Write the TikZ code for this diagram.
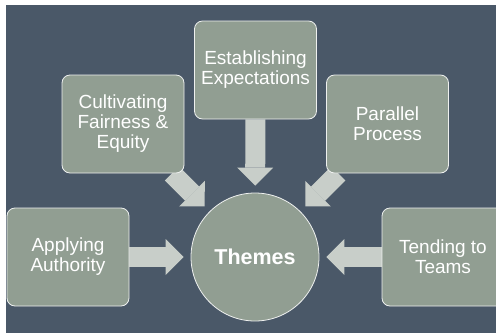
\documentclass[tikz,border=0pt]{standalone}
\usepackage{fontspec}
\setmainfont{Liberation Sans}
\usetikzlibrary{arrows.meta, backgrounds}
\definecolor{slatebg}{RGB}{74, 88, 104}
\definecolor{sagebox}{RGB}{145, 158, 146}
\definecolor{palearrow}{RGB}{200, 206, 201}

\begin{document}
\begin{tikzpicture}[x=1pt, y=-1pt,
  theme/.style={rectangle, rounded corners=8pt, fill=sagebox, draw=white!85!sagebox,
    line width=0.8pt, minimum width=122pt, minimum height=98pt, inner sep=0pt,
    align=center, text=white, font=\fontsize{19}{20}\selectfont},
  hub/.style={circle, fill=sagebox, draw=white!85!sagebox, line width=0.8pt,
    minimum size=128pt, inner sep=0pt, text=white,
    font=\fontsize{21.5}{24}\selectfont\bfseries},
  feed/.style={palearrow, line width=20pt, shorten >=7pt,
    -{Triangle[length=18pt, width=36pt, line width=0pt]}}]
  % 画布
  \useasboundingbox (0,0) rectangle (496,333);
  \clip (0,0) rectangle (496,333);

  % 五个主题框 + 中心圆
  \node[theme] (expect) at (255.5,70)  {Establishing\\Expectations};
  \node[theme] (fair)   at (123,124)   {Cultivating\\Fairness \&\\Equity};
  \node[theme] (para)   at (387.5,124) {Parallel\\Process};
  \node[theme] (auth)   at (68,257)    {Applying\\Authority};
  \node[theme] (teams)  at (443,257)   {Tending to\\Teams};
  \node[hub]   (hub)    at (255,257)   {Themes};

  % 底色和箭头放在背景层
  \begin{scope}[on background layer]
    \fill[white] (0,0) rectangle (496,333);
    \fill[slatebg] (6,5) rectangle (496,333);
    \draw[feed] (expect) -- (hub);
    \draw[feed] (fair) -- (hub);
    \draw[feed] (para) -- (hub);
    \draw[feed] (auth) -- (hub);
    \draw[feed] (teams) -- (hub);
  \end{scope}
\end{tikzpicture}
\end{document}
